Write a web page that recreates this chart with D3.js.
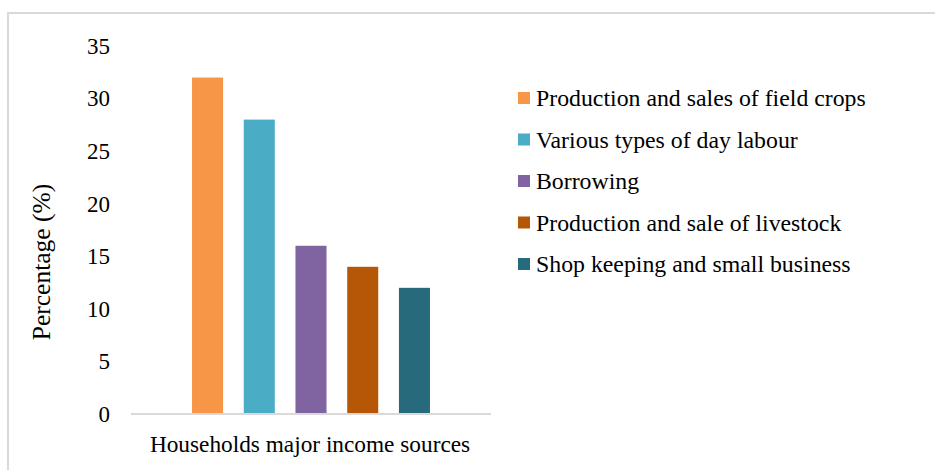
<!DOCTYPE html>
<html>
<head>
<meta charset="utf-8">
<script src="https://cdn.jsdelivr.net/npm/d3@7"></script>
<style>
  html, body { margin: 0; padding: 0; background: #fff; }
  svg { display: block; }
  text { font-family: "Liberation Serif", "Times New Roman", serif; fill: #000; }
</style>
</head>
<body>
<svg id="chart" width="935" height="470"></svg>
<script>
// Household income sources (share of households, %)
const category = ["Households major income sources"];
const sources = [
  "Production and sales of field crops",
  "Various types of day labour",
  "Borrowing",
  "Production and sale of livestock",
  "Shop keeping and small business"
];
const values = [32, 28, 16, 14, 12];
const colors = ["#F79646", "#4BACC6", "#8064A2", "#B65708", "#276A7C"];
const yTicks = [0, 5, 10, 15, 20, 25, 30, 35];
const yTitle = "Percentage (%)";

const serif = "'Liberation Serif', 'Times New Roman', serif";
const svg = d3.select("#chart");

// outer chart frame
svg.append("rect")
  .attr("x", 8).attr("y", 13)
  .attr("width", 960).attr("height", 500)
  .attr("fill", "none")
  .attr("stroke", "#d9d9d9")
  .attr("stroke-width", 2);

const plot = { left: 131, right: 491, top: 46, bottom: 414 };

const y = d3.scaleLinear().domain([0, 35]).range([plot.bottom, plot.top]);

const x0 = d3.scaleBand()
  .domain(category)
  .range([plot.left, plot.right])
  .paddingOuter(0.196);

const x1 = d3.scaleBand()
  .domain(sources)
  .range([x0(category[0]), x0(category[0]) + x0.bandwidth()])
  .paddingInner(0.4)
  .paddingOuter(0.2);

// bars
svg.append("g")
  .selectAll("rect")
  .data(sources)
  .join("rect")
  .attr("x", d => x1(d))
  .attr("width", x1.bandwidth())
  .attr("y", (d, i) => y(values[i]))
  .attr("height", (d, i) => y(0) - y(values[i]))
  .attr("fill", (d, i) => colors[i]);

// y axis (labels only, no line)
const yAxis = svg.append("g")
  .attr("transform", `translate(${plot.left - 21},0)`)
  .call(d3.axisLeft(y).tickValues(yTicks).tickSize(0).tickPadding(0));
yAxis.select(".domain").remove();
yAxis.attr("font-family", serif);
yAxis.selectAll("text")
  .attr("font-size", 23)
  .attr("fill", "#000");

// x axis baseline and category label
const xAxis = svg.append("g")
  .attr("transform", `translate(0,${plot.bottom})`)
  .call(d3.axisBottom(x0).tickSize(0).tickPadding(21));
xAxis.attr("font-family", serif);
xAxis.select(".domain").attr("stroke", "#d9d9d9").attr("stroke-width", 2)
  .attr("d", `M${plot.left},0H${plot.right}`);
xAxis.selectAll("text")
  .attr("font-size", 23.3)
  .attr("fill", "#000")
  .attr("dx", -1)
  .attr("dy", "0.71em");

// y title
svg.append("text")
  .attr("transform", `translate(50,262) rotate(-90)`)
  .attr("text-anchor", "middle")
  .attr("font-size", 25.5)
  .text(yTitle);

// legend
const legend = svg.append("g").attr("transform", "translate(518,98)");
const item = legend.selectAll("g")
  .data(sources)
  .join("g")
  .attr("transform", (d, i) => `translate(0,${i * 41.5})`);
item.append("rect")
  .attr("x", 0).attr("y", -6)
  .attr("width", 12).attr("height", 12)
  .attr("fill", (d, i) => colors[i]);
item.append("text")
  .attr("x", 18).attr("y", 8)
  .attr("font-size", 23.8)
  .text(d => d);
</script>
</body>
</html>
